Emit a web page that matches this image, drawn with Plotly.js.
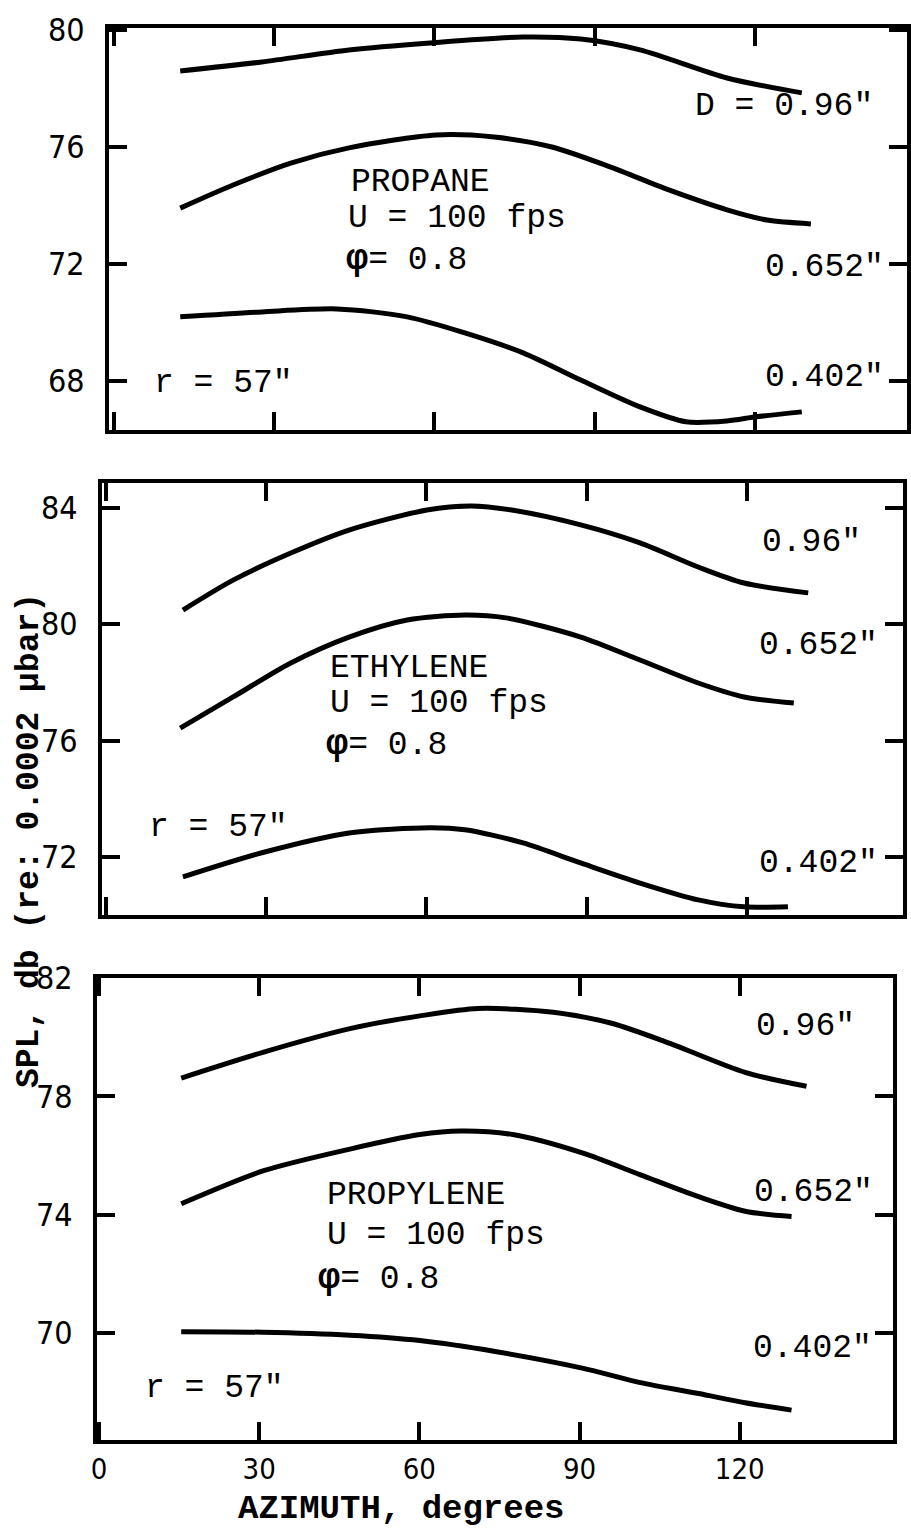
<!DOCTYPE html>
<html>
<head>
<meta charset="utf-8">
<script src="https://cdn.plot.ly/plotly-3.0.1.min.js"></script>
<style>
  html, body { margin: 0; padding: 0; background: #ffffff; }
  #chart { width: 911px; height: 1531px; }
</style>
</head>
<body>
<div id="chart"></div>
<script>
// ---------------- DATA ----------------
// Azimuth tick labels
const xTickVals = [0, 30, 60, 90, 120];
const xTickText = ['0', '30', '60', '90', '120'];

// Propane panel (SPL, dB)
const propaneTicks = [68, 72, 76, 80];
const propane096_x = [12.4, 27.7, 44.0, 59.2, 76.6, 87.4, 98.5, 114.8, 128.8];
const propane096_y = [78.60, 78.91, 79.32, 79.56, 79.76, 79.69, 79.32, 78.36, 77.85];
const propane0652_x = [12.4, 22.3, 33.1, 44.0, 60.3, 71.2, 82.0, 92.9, 103.9, 114.8, 122.3, 130.5];
const propane0652_y = [73.91, 74.70, 75.45, 75.97, 76.41, 76.34, 76.00, 75.32, 74.53, 73.85, 73.50, 73.37];
const propane0402_x = [12.4, 27.7, 41.8, 54.9, 65.7, 76.6, 87.4, 98.5, 107.1, 114.8, 120.2, 128.8];
const propane0402_y = [70.19, 70.36, 70.46, 70.19, 69.64, 68.96, 68.03, 67.11, 66.60, 66.63, 66.77, 66.94];

// Ethylene panel
const ethyleneTicks = [72, 76, 80, 84];
const ethylene096_x = [14.4, 23.8, 34.6, 45.5, 60.1, 68.4, 76.0, 88.9, 100.0, 110.9, 119.5, 131.5];
const ethylene096_y = [80.49, 81.52, 82.45, 83.24, 83.93, 84.07, 83.93, 83.42, 82.80, 81.97, 81.42, 81.08];
const ethylene0652_x = [13.9, 23.8, 34.6, 45.5, 56.4, 67.2, 74.9, 88.9, 100.0, 110.9, 119.5, 128.8];
const ethylene0652_y = [76.43, 77.50, 78.67, 79.56, 80.15, 80.32, 80.22, 79.56, 78.77, 77.98, 77.50, 77.29];
const ethylene0402_x = [14.4, 29.2, 45.5, 60.7, 67.2, 78.1, 88.9, 100.0, 110.9, 119.5, 127.7];
const ethylene0402_y = [71.31, 72.14, 72.82, 73.00, 72.93, 72.48, 71.79, 71.10, 70.52, 70.28, 70.28];

// Propylene panel
const propyleneTicks = [70, 74, 78, 82];
const propylene096_x = [15.4, 30.7, 47.0, 60.1, 71.0, 85.1, 96.0, 106.9, 121.0, 132.5];
const propylene096_y = [78.62, 79.49, 80.29, 80.72, 80.97, 80.84, 80.47, 79.79, 78.81, 78.34];
const propylene0652_x = [15.4, 30.7, 47.0, 60.1, 67.7, 77.5, 90.5, 101.4, 112.3, 121.0, 129.7];
const propylene0652_y = [74.37, 75.48, 76.22, 76.71, 76.83, 76.71, 76.09, 75.35, 74.61, 74.12, 73.94];
const propylene0402_x = [15.4, 30.7, 47.0, 60.1, 74.2, 90.5, 101.4, 112.3, 121.0, 129.7];
const propylene0402_y = [70.05, 70.03, 69.93, 69.75, 69.38, 68.82, 68.33, 67.96, 67.65, 67.40];

// Text
const gasNames = ['PROPANE', 'ETHYLENE', 'PROPYLENE'];
const velocityText = 'U = 100 fps';
const phiText = '<b><span style="font-size:37px">φ</span></b>= 0.8';
const radiusText = 'r = 57"';
const diamLabels = ['0.96"', '0.652"', '0.402"'];
const xTitle = 'AZIMUTH, degrees';
const yTitle = 'SPL, db (re: 0.0002 µbar)';

// ---------------- LAYOUT HELPERS ----------------
const W = 911, H = 1531;
const px = v => v / W;
const py = v => 1 - v / H;

const lineStyle = {color: '#000', width: 5, shape: 'spline', smoothing: 0.8};
function curve(x, y, xa, ya, name) {
  return {x: x, y: y, xaxis: xa, yaxis: ya, type: 'scatter', mode: 'lines',
          line: lineStyle, name: name, hoverinfo: 'skip', showlegend: false};
}

const traces = [
  curve(propane096_x, propane096_y, 'x', 'y', 'Propane 0.96"'),
  curve(propane0652_x, propane0652_y, 'x', 'y', 'Propane 0.652"'),
  curve(propane0402_x, propane0402_y, 'x', 'y', 'Propane 0.402"'),
  curve(ethylene096_x, ethylene096_y, 'x2', 'y2', 'Ethylene 0.96"'),
  curve(ethylene0652_x, ethylene0652_y, 'x2', 'y2', 'Ethylene 0.652"'),
  curve(ethylene0402_x, ethylene0402_y, 'x2', 'y2', 'Ethylene 0.402"'),
  curve(propylene096_x, propylene096_y, 'x3', 'y3', 'Propylene 0.96"'),
  curve(propylene0652_x, propylene0652_y, 'x3', 'y3', 'Propylene 0.652"'),
  curve(propylene0402_x, propylene0402_y, 'x3', 'y3', 'Propylene 0.402"')
];

const tickFont = {family: '"Liberation Sans Narrow", "DejaVu Sans Condensed", "Liberation Sans", sans-serif', size: 32, color: '#000'};
const axisBase = {
  showline: true, linewidth: 4, linecolor: '#000', mirror: 'ticks',
  ticks: 'inside', ticklen: 18, tickwidth: 4, tickcolor: '#000',
  showgrid: false, zeroline: false, fixedrange: true, tickfont: tickFont
};
function xAxis(domain, range, anchor, showLabels) {
  return Object.assign({}, axisBase, {
    domain: domain, range: range, anchor: anchor,
    tickmode: 'array', tickvals: xTickVals, ticktext: xTickText,
    showticklabels: showLabels, ticklabelstandoff: 0,
    tickfont: Object.assign({}, tickFont, {size: 29})
  });
}
function yAxis(domain, range, anchor, ticks) {
  return Object.assign({}, axisBase, {
    domain: domain, range: range, anchor: anchor,
    tickmode: 'array', tickvals: ticks, ticktext: ticks.map(String),
    ticklabelstandoff: 14
  });
}

const annFont = {family: '"Liberation Mono", "DejaVu Sans Mono", monospace', size: 33, color: '#000'};
function note(text, xLeft, yMid, extra) {
  return Object.assign({text: text, x: px(xLeft), y: py(yMid), xref: 'paper', yref: 'paper',
          xanchor: 'left', yanchor: 'middle', showarrow: false, font: annFont}, extra || {});
}

const annotations = [
  // Propane panel
  note('D = ' + diamLabels[0], 693, 107),
  note(gasNames[0], 349, 182),
  note(velocityText, 346, 219),
  note(phiText, 344, 259),
  note(diamLabels[1], 763, 267),
  note(diamLabels[2], 763, 377),
  note(radiusText, 152, 383),
  // Ethylene panel
  note(diamLabels[0], 760, 542),
  note(diamLabels[1], 757, 645),
  note(gasNames[1], 328, 668),
  note(velocityText, 328, 703),
  note(phiText, 324, 744),
  note(radiusText, 147, 827),
  note(diamLabels[2], 757, 864),
  // Propylene panel
  note(diamLabels[0], 754, 1026),
  note(diamLabels[1], 752, 1192),
  note(gasNames[2], 325, 1195),
  note(velocityText, 325, 1235),
  note(phiText, 316, 1278),
  note(diamLabels[2], 751, 1348),
  note(radiusText, 143, 1388),
  // Axis titles
  {text: '<b>' + xTitle + '</b>', x: px(401), y: py(1509), xref: 'paper', yref: 'paper',
   xanchor: 'center', yanchor: 'middle', showarrow: false,
   font: {family: '"Liberation Mono", "DejaVu Sans Mono", monospace', size: 34, color: '#000'}},
  {text: '<b>' + yTitle + '</b>', x: px(29), y: py(841), xref: 'paper', yref: 'paper',
   xanchor: 'center', yanchor: 'middle', showarrow: false, textangle: -90,
   font: {family: '"Liberation Mono", "DejaVu Sans Mono", monospace', size: 33, color: '#000'}}
];

const layout = {
  width: W, height: H,
  margin: {l: 0, r: 0, t: 0, b: 0, pad: 0},
  paper_bgcolor: '#fff', plot_bgcolor: '#fff',
  showlegend: false,
  xaxis:  xAxis([px(109), px(907)], [-0.94, 148.5], 'y', false),
  yaxis:  yAxis([py(430), py(28)], [66.32, 80.07], 'x', propaneTicks),
  xaxis2: xAxis([px(102), px(903)], [-0.75, 149.25], 'y2', false),
  yaxis2: yAxis([py(915), py(483)], [70.0, 84.86], 'x2', ethyleneTicks),
  xaxis3: xAxis([px(97), px(893)], [-0.37, 148.7], 'y3', true),
  yaxis3: yAxis([py(1440), py(978)], [66.39, 82.0], 'x3', propyleneTicks),
  annotations: annotations
};

Plotly.newPlot('chart', traces, layout, {staticPlot: true, displayModeBar: false});
</script>
</body>
</html>
